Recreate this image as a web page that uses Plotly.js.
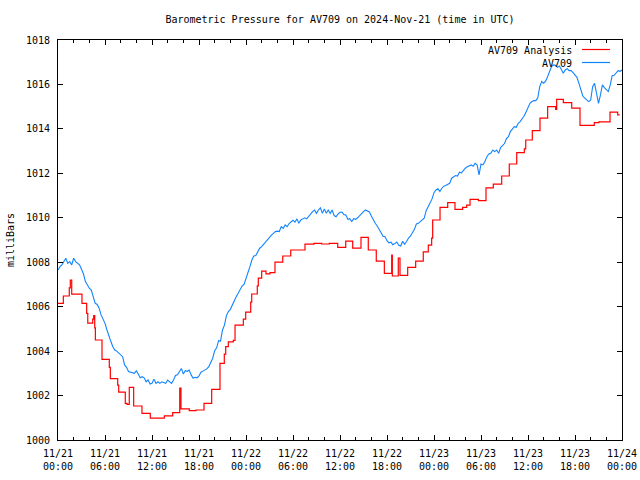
<!DOCTYPE html>
<html>
<head>
<meta charset="utf-8">
<script src="https://cdn.plot.ly/plotly-3.0.1.min.js"></script>
<style>html,body{margin:0;padding:0;background:#fff;}#chart{width:640px;height:480px;}</style>
</head>
<body>
<div id="chart"></div>
<script>
// AV709 readings, one every 15 minutes from 2024-11-21 00:00 UTC
const blueStepHours = 0.25;
const blueValues = [
1007.65,1007.8,1007.88,1008.03,1008.18,1007.95,1008.03,1007.88,1008.18,1008.03,1007.95,1007.88,
1007.68,1007.47,1007.13,1006.98,1006.83,1006.75,1006.38,1006.15,1006.1,1005.93,1005.63,1005.45,
1005.25,1004.95,1004.73,1004.43,1004.2,1004.05,1004.0,1003.93,1003.83,1003.75,1003.38,1003.27,
1003.08,1003.05,1003.0,1003.0,1003.12,1002.97,1002.8,1002.85,1002.8,1002.62,1002.7,1002.52,
1002.55,1002.74,1002.55,1002.62,1002.55,1002.62,1002.58,1002.55,1002.7,1002.62,1002.55,1002.7,
1002.9,1002.93,1003.08,1003.22,1002.97,1003.12,1003.09,1003.15,1002.93,1002.78,1002.82,1002.8,
1002.88,1003.05,1003.1,1003.15,1003.2,1003.3,1003.53,1003.68,1004.02,1004.15,1004.47,1004.45,
1004.95,1005.17,1005.6,1005.78,1005.88,1006.1,1006.25,1006.45,1006.6,1006.75,1006.93,1007.0,
1007.27,1007.45,1007.8,1008.1,1008.28,1008.3,1008.45,1008.63,1008.7,1008.8,1008.95,1009.03,
1009.14,1009.22,1009.3,1009.38,1009.4,1009.38,1009.6,1009.52,1009.68,1009.6,1009.74,1009.8,
1009.89,1009.8,1009.95,1009.75,1009.9,1009.95,1010.0,1009.95,1010.08,1010.2,1010.28,1010.35,
1010.2,1010.35,1010.45,1010.2,1010.4,1010.2,1010.35,1010.2,1010.35,1010.1,1010.05,1010.17,
1010.25,1010.26,1010.14,1010.13,1009.93,1009.96,1009.83,1009.96,1009.93,1010.0,1010.11,1010.2,
1010.28,1010.35,1010.3,1010.26,1010.08,1009.9,1009.75,1009.63,1009.45,1009.33,1009.17,1009.15,
1008.97,1008.87,1008.9,1008.79,1008.84,1008.91,1008.76,1008.73,1008.94,1008.81,1008.93,1009.09,
1009.18,1009.33,1009.48,1009.72,1009.75,1009.83,1009.9,1009.98,1010.32,1010.49,1010.65,1010.85,
1011.13,1011.25,1011.31,1011.18,1011.33,1011.42,1011.45,1011.5,1011.55,1011.78,1011.85,1011.9,
1011.88,1012.05,1012.02,1012.15,1012.23,1012.3,1012.33,1012.38,1012.32,1012.45,1012.38,1011.93,
1012.42,1012.38,1012.53,1012.75,1012.87,1012.9,1013.05,1012.98,1013.05,1012.9,1013.16,1013.23,
1013.34,1013.56,1013.65,1013.88,1014.01,1014.1,1014.07,1014.25,1014.33,1014.45,1014.58,1014.76,
1014.93,1015.15,1015.23,1015.27,1015.27,1015.4,1015.9,1016.13,1016.05,1016.15,1016.35,1016.6,
1016.8,1016.88,1016.86,1016.77,1016.83,1016.68,1016.5,1016.65,1016.71,1016.62,1016.62,1016.53,
1016.43,1016.32,1016.05,1015.78,1015.48,1015.38,1015.3,1015.23,1015.3,1015.9,1016.05,1015.56,
1015.15,1015.53,1015.98,1015.86,1015.77,1015.68,1015.98,1016.4,1016.41,1016.53,1016.62,1016.59,
1016.65];

// AV709 Analysis: hour at which each step begins, and its value
const redHours = [0,0.68,1.44,1.57,1.75,3.06,3.66,3.8,4.43,4.56,4.69,4.77,5.62,6.55,6.68,7.62,7.75,8.59,8.81,9.1,9.66,10.72,11.78,13.57,14.64,15.54,15.7,16.76,17.6,18.64,19.62,20.68,21.23,21.41,21.74,22.38,22.6,23.66,23.96,24.6,24.73,25.44,25.57,26.0,26.55,27.06,27.7,28.69,29.71,31.53,32.68,33.66,34.63,35.71,36.73,37.62,38.68,39.61,40.63,41.66,42.6,42.68,43.44,43.66,44.64,45.66,46.63,47.27,47.7,47.83,48.77,49.75,50.68,51.66,52.17,52.6,53.66,54.64,55.57,56.64,57.61,58.56,59.53,59.71,60.55,61.53,62.51,63.53,63.66,64.51,65.58,66.64,68.46,69.06,70.47,71.45,71.7];
const redValues = [1006.15,1006.48,1006.85,1007.2,1006.56,1006.15,1005.7,1005.26,1005.44,1005.6,1005.05,1004.5,1003.63,1003.27,1002.76,1002.47,1002.15,1001.65,1001.6,1002.37,1001.53,1001.2,1000.98,1001.09,1001.23,1002.33,1001.4,1001.32,1001.35,1001.65,1002.28,1003.45,1003.86,1004.2,1004.42,1004.48,1005.17,1005.44,1005.75,1006.2,1006.57,1006.94,1007.28,1007.6,1007.48,1007.53,1008.0,1008.28,1008.55,1008.81,1008.85,1008.82,1008.85,1008.67,1008.95,1008.63,1009.12,1008.55,1008.05,1007.5,1008.32,1007.38,1008.18,1007.41,1007.77,1008.05,1008.47,1008.77,1009.08,1009.9,1010.47,1010.68,1010.38,1010.47,1010.57,1010.83,1010.77,1011.35,1011.51,1011.88,1012.42,1012.93,1013.1,1013.5,1013.92,1014.48,1015.0,1014.88,1015.33,1015.18,1014.93,1014.16,1014.28,1014.32,1014.75,1014.63,1014.63];

const seriesNames = ['AV709 Analysis', 'AV709'];
const chartTitle = 'Barometric Pressure for AV709 on 2024-Nov-21 (time in UTC)';
const yTitle = 'milliBars';

function pad(n){return (n<10?'0':'')+n;}
function toDate(h){
  const d = new Date(Date.UTC(2024,10,21) + Math.round(h*3600000));
  return d.getUTCFullYear()+'-'+pad(d.getUTCMonth()+1)+'-'+pad(d.getUTCDate())+' '+pad(d.getUTCHours())+':'+pad(d.getUTCMinutes())+':'+pad(d.getUTCSeconds());
}
const blueHours = blueValues.map((v,i)=>i*blueStepHours);

const FONT = {family:'DejaVu Sans Mono, monospace', size:10, color:'#000'};
const RED = '#ff0000', BLUE = '#1084ff';

const traces = [
  {x: redHours.map(toDate), y: redValues, name: seriesNames[0], mode:'lines', line:{color:RED, width:1.2, shape:'hv'}, hoverinfo:'skip'},
  {x: blueHours.map(toDate), y: blueValues, name: seriesNames[1], mode:'lines', line:{color:BLUE, width:1.1}, hoverinfo:'skip'}
];

const axisCommon = {
  showline:true, linecolor:'#000', linewidth:1, mirror:'allticks',
  ticks:'inside', ticklen:5, tickwidth:1, tickcolor:'#000',
  showgrid:false, zeroline:false, tickfont:FONT
};

const layout = {
  width:640, height:480,
  margin:{l:58, r:18, t:40, b:40, pad:0},
  paper_bgcolor:'#fff', plot_bgcolor:'#fff',
  font:FONT,
  showlegend:false,
  title:{text:chartTitle, font:FONT, x:0.5, xref:'paper', xanchor:'center', y:(480-19)/480, yref:'container', yanchor:'middle'},
  xaxis: Object.assign({}, axisCommon, {
    type:'date',
    range:[toDate(0), toDate(72)],
    tick0: toDate(0), dtick: 6*3600000,
    tickformat:'%m/%d<br>%H:%M',
    ticklabelstandoff: 4,
    minor:{dtick: 2*3600000, tick0: toDate(0), ticks:'inside', ticklen:3, tickcolor:'#000', showgrid:false}
  }),
  yaxis: Object.assign({}, axisCommon, {
    range:[1000,1018], dtick:2, tick0:1000,
    ticklabelstandoff: 5,
    title:{text:yTitle, font:FONT, standoff:9}
  }),
  annotations:[
    {text:seriesNames[0], xref:'paper', yref:'paper', x:(574-58)/564, y:1-(50-40)/400, xanchor:'right', yanchor:'middle', showarrow:false, font:FONT},
    {text:seriesNames[1], xref:'paper', yref:'paper', x:(574-58)/564, y:1-(63-40)/400, xanchor:'right', yanchor:'middle', showarrow:false, font:FONT}
  ],
  shapes:[
    {type:'line', xref:'paper', yref:'paper', x0:(582-58)/564, x1:(610-58)/564, y0:1-(49.5-40)/400, y1:1-(49.5-40)/400, line:{color:RED, width:1.2}},
    {type:'line', xref:'paper', yref:'paper', x0:(582-58)/564, x1:(610-58)/564, y0:1-(62.5-40)/400, y1:1-(62.5-40)/400, line:{color:BLUE, width:1.2}}
  ]
};

Plotly.newPlot('chart', traces, layout, {staticPlot:true, displayModeBar:false});
</script>
</body>
</html>
